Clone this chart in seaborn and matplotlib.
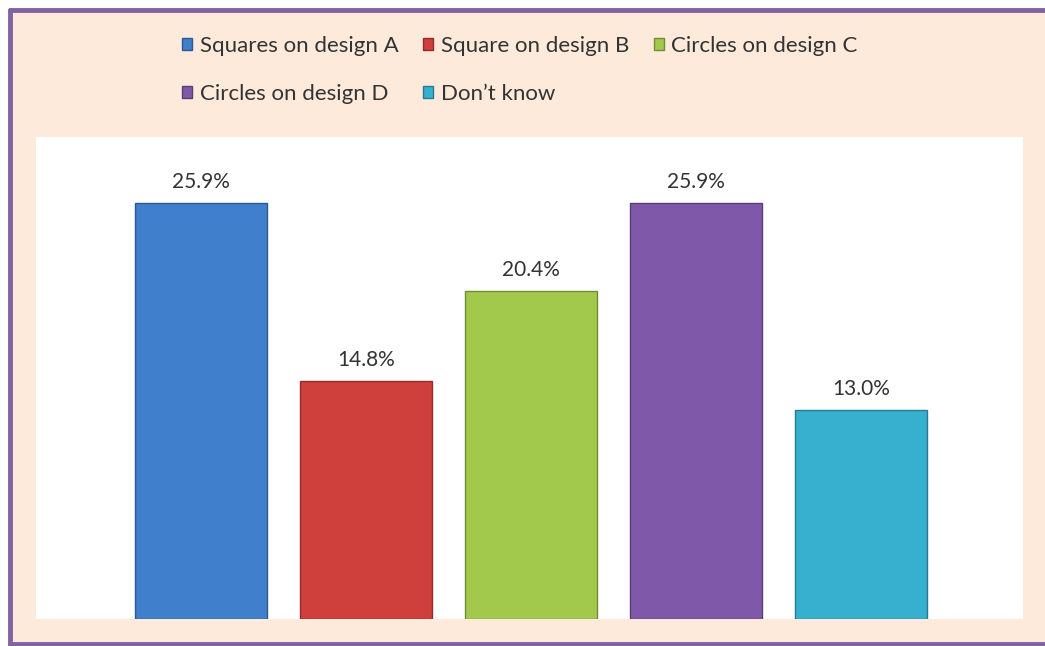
import numpy as np
import pandas as pd
import matplotlib.pyplot as plt
import matplotlib.patches as mpatches
from matplotlib.lines import Line2D
import seaborn as sns

# data
categories = ["Squares on design A", "Square on design B", "Circles on design C",
              "Circles on design D", "Don\u2019t know"]
shares = [25.9, 14.8, 20.4, 25.9, 13.0]
bar_colors = ["#3f7fcc", "#cf3f3c", "#a2c84c", "#7f58a9", "#37afcf"]

df = pd.DataFrame({"answer": categories, "share": shares})

sns.set_style("white")
plt.rcParams['font.family'] = ['Lato', 'DejaVu Sans']

fig = plt.figure(figsize=(10.45, 6.46), dpi=100, facecolor="white")

# beige panel with purple frame
panel = mpatches.Rectangle((10 / 1045, 2 / 646), 1.0, 634 / 646, transform=fig.transFigure,
                           facecolor="#fdeadb", edgecolor="none", zorder=-5)
fig.patches.append(panel)
frame_col = "#8064a2"
for xs, ys in [([10 / 1045, 10 / 1045], [2 / 646, 636 / 646]),
               ([10 / 1045, 1.0], [636 / 646, 636 / 646]),
               ([10 / 1045, 1.0], [2 / 646, 2 / 646])]:
    fig.add_artist(Line2D(xs, ys, transform=fig.transFigure, color=frame_col, lw=3.5, zorder=10))

ax = fig.add_axes([36 / 1045, 27 / 646, 987 / 1045, 482 / 646])
ax.set_facecolor("white")

sns.barplot(data=df, x="answer", y="share", hue="answer", palette=bar_colors,
            width=0.8, legend=False, ax=ax, saturation=1)

def darker(c, f=0.7):
    return tuple(np.array(plt.matplotlib.colors.to_rgb(c)) * f)

for p, c in zip(ax.patches, bar_colors):
    p.set_edgecolor(darker(c))
    p.set_linewidth(1.0)

for cont in ax.containers:
    ax.bar_label(cont, fmt="%.1f%%", padding=8, fontsize=15, color="#333333")

ax.set_xlim(-1.0, 4.98)
ax.set_ylim(0, 30)
ax.set_xlabel("")
ax.set_ylabel("")
ax.set_xticks([])
ax.set_yticks([])
sns.despine(ax=ax, left=True, bottom=True)

# legend fills column-wise, so reorder to get the row layout of the original
order = [0, 3, 1, 4, 2]
handles = [mpatches.Patch(facecolor=bar_colors[i], edgecolor=darker(bar_colors[i])) for i in order]
labels = [categories[i] for i in order]
fig.legend(handles, labels, ncol=3, loc="center left",
           bbox_to_anchor=(0.155, 1 - 70 / 646), frameon=False,
           fontsize=16, labelcolor="#333333", handlelength=0.45, handleheight=0.45,
           handletextpad=0.35, columnspacing=1.1, labelspacing=1.25)

fig.savefig("out.png", dpi=100, facecolor=fig.get_facecolor())
